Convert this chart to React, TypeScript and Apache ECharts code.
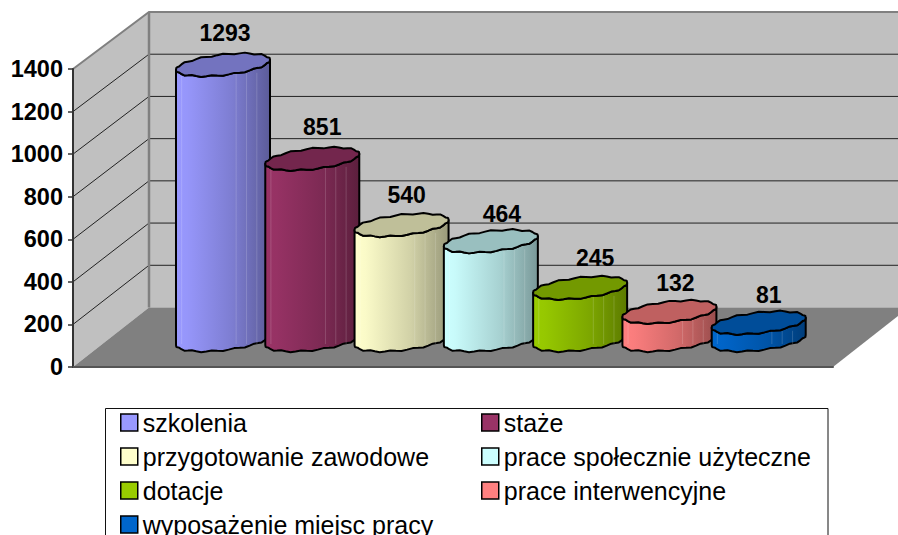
import React, { useEffect, useRef } from "react";
import * as echarts from "echarts";

const categories = ["szkolenia", "staże", "przygotowanie zawodowe", "prace społecznie użyteczne", "dotacje", "prace interwencyjne", "wyposażenie miejsc pracy"];
const values = [1293, 851, 540, 464, 245, 132, 81];
const yTicks = [0, 200, 400, 600, 800, 1000, 1200, 1400];
const colors = ["#9999FF", "#993366", "#FFFFCC", "#CCFFFF", "#99CC00", "#FF8080", "#0066CC"];
const labelDx = [2, 10, 5, 11, 15, 6, 10];
const labelDy = [-32, -32, -30, -27, -30, -29, -28];

const DEPTH_X = 76;
const FONT = "'Liberation Sans', Arial, sans-serif";

function depthY(v: number) {
  return -59.5 + (v / 1400) * 2.5;
}

function shade(hex: string, k: number) {
  const n = parseInt(hex.slice(1), 16);
  const c = [(n >> 16) & 255, (n >> 8) & 255, n & 255].map((v) => Math.round(v * k));
  return `rgb(${c[0]},${c[1]},${c[2]})`;
}

const RX = 47;
function rim(cx: number, cy: number, t: number): number[] {
  return [
    cx + RX * Math.cos(t),
    cy - 5 * Math.cos(t) + 10.3 * Math.sin(t) + 0.7 * Math.sin(13 * t),
  ];
}

function cylinderItem(index: number) {
  return (params: any, api: any) => {
    const top = api.coord([api.value(0), api.value(1)]);
    const base = api.coord([api.value(0), 0]);
    const cx = top[0];
    const color = colors[index];
    const steps = 52;
    const lower: number[][] = [];
    const lowerTop: number[][] = [];
    for (let i = steps / 2; i >= 0; i--) {
      const t = (i / (steps / 2)) * Math.PI;
      lower.push(rim(cx, base[1], t));
      lowerTop.push(rim(cx, top[1], t));
    }
    const ring: number[][] = [];
    for (let i = 0; i < steps; i++) ring.push(rim(cx, top[1], (i / steps) * Math.PI * 2));
    const bodyPts = [...lower, ...lowerTop.slice().reverse()];
    const fill = new echarts.graphic.LinearGradient(0, 0, 1, 0, [
      { offset: 0, color: shade(color, 1) },
      { offset: 0.12, color: shade(color, 0.98) },
      { offset: 0.6, color: shade(color, 0.82) },
      { offset: 1, color: shade(color, 0.6) },
    ]);
    const streaks = [-0.88, 0.28, 0.5, 0.72].map((f) => {
      const x = cx + f * RX;
      const h = base[1] - top[1];
      return {
        type: "line",
        shape: { x1: x, y1: top[1] + 8, x2: x, y2: top[1] + Math.max(h, 10) + 4 },
        style: { stroke: "rgba(255,255,255,0.16)", lineWidth: 1 },
      };
    });
    return {
      type: "group",
      children: [
        { type: "polygon", shape: { points: bodyPts }, style: { fill, stroke: "#000", lineWidth: 2, lineJoin: "round" } },
        ...streaks,
        { type: "polygon", shape: { points: ring }, style: { fill: shade(color, 0.75), stroke: "#000", lineWidth: 2, lineJoin: "round" } },
        {
          type: "text",
          style: {
            x: cx + labelDx[index],
            y: top[1] + labelDy[index],
            text: String(api.value(1)),
            fill: "#000",
            font: `bold 23px ${FONT}`,
            align: "center",
            verticalAlign: "middle",
          },
        },
      ],
    };
  };
}

function wallItem(params: any, api: any) {
  const cs = params.coordSys;
  const v = api.value(0);
  const y = api.coord([0, v])[1];
  const x0 = cs.x;
  const bx = x0 + DEPTH_X;
  const far = x0 + cs.width + DEPTH_X;
  const children: any[] = [];
  const y0 = cs.y + cs.height;
  const yTop = cs.y;
  const maxV = yTicks[yTicks.length - 1];
  const backBottom = y0 + depthY(0);
  const backTop = yTop + depthY(maxV);
  const backY = y + depthY(v);
  if (params.dataIndex === 0) {
    children.push(
      { type: "polygon", shape: { points: [[x0, yTop], [bx, backTop], [far, backTop], [far, backBottom], [bx, backBottom], [x0, y0]] }, style: { fill: "#C0C0C0" } },
      { type: "polygon", shape: { points: [[x0, y0], [bx, backBottom], [far, backBottom], [x0 + cs.width, y0]] }, style: { fill: "#808080" } }
    );
  } else if (v === maxV) {
    children.push({
      type: "polyline",
      shape: { points: [[x0, y], [bx, backY], [far, backY]] },
      style: { stroke: "#808080", lineWidth: 2, fill: "none" },
    });
    children.push({
      type: "line",
      shape: { x1: bx, y1: backY, x2: bx, y2: backBottom },
      style: { stroke: "#808080", lineWidth: 2.5 },
    });
  } else {
    children.push({
      type: "polyline",
      shape: { points: [[x0, y], [bx, backY], [far, backY]] },
      style: { stroke: "#222", lineWidth: 1, fill: "none" },
    });
  }
  return { type: "group", children };
}

export default function App() {
  const ref = useRef<HTMLDivElement>(null);
  useEffect(() => {
    document.body.style.margin = "0";
    const chart = echarts.init(ref.current!, undefined, { renderer: "svg" });
    const legendBase = {
      orient: "vertical",
      top: 405,
      height: 200,
      itemWidth: 17,
      itemHeight: 17,
      itemGap: 9,
      icon: "rect",
      selectedMode: false,
      itemStyle: { borderColor: "#000", borderWidth: 1.5 },
      textStyle: { fontFamily: FONT, fontSize: 25, color: "#000", padding: [0, 0, 0, 0] },
    };
    chart.setOption({
      animation: false,
      backgroundColor: "#fff",
      grid: [
        { left: 73, top: 69, width: 760, height: 298 },
        { left: 178.35, top: 42, width: 625, height: 298 },
      ],
      xAxis: [
        { gridIndex: 0, type: "category", data: categories, z: 5, axisLabel: { show: false }, axisTick: { show: false }, axisLine: { show: true, lineStyle: { color: "#555", width: 2 } }, boundaryGap: false },
        { gridIndex: 1, type: "category", data: categories, show: false },
      ],
      yAxis: [
        {
          gridIndex: 0, type: "value", min: 0, max: 1400, interval: 200, z: 5,
          splitLine: { show: false },
          axisLine: { show: true, lineStyle: { color: "#333", width: 2 } },
          axisTick: { show: true, length: 5, lineStyle: { color: "#333", width: 1.5 } },
          axisLabel: { color: "#000", fontFamily: FONT, fontWeight: "bold", fontSize: 23.5, margin: 10, formatter: (v: number) => String(v) },
        },
        { gridIndex: 1, type: "value", min: 0, max: 1400, interval: 200, show: false },
      ],
      legend: [
        { ...legendBase, left: 115, data: [categories[0], categories[2], categories[4], categories[6]] },
        { ...legendBase, left: 476, data: [categories[1], categories[3], categories[5]] },
      ],
      graphic: [
        { type: "rect", shape: { x: 105.5, y: 408.5, width: 722.5, height: 140 }, style: { fill: "none", stroke: "#111", lineWidth: 1 }, silent: true },
      ],
      series: [
        {
          type: "custom", xAxisIndex: 0, yAxisIndex: 0, z: 1, silent: true,
          data: yTicks.map((v) => [v]),
          encode: { y: 0 },
          renderItem: wallItem,
        },
        ...categories.map((name, i) => ({
          type: "custom",
          name,
          xAxisIndex: 1,
          yAxisIndex: 1,
          z: 2 + i,
          silent: true,
          itemStyle: { color: colors[i] },
          encode: { x: 0, y: 1 },
          data: [[i, values[i]]],
          renderItem: cylinderItem(i),
        })),
      ],
    });
    return () => chart.dispose();
  }, []);
  return <div ref={ref} style={{ width: 898, height: 535 }} />;
}
